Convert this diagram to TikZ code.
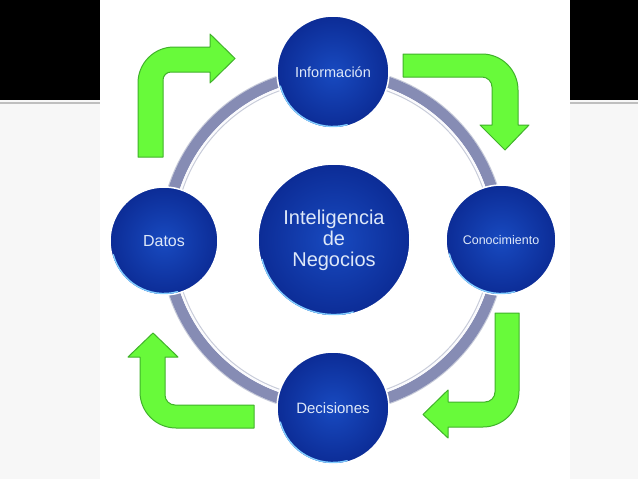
\documentclass[tikz,border=0pt]{standalone}
\usepackage{fontspec}
\setmainfont{Liberation Sans}
\definecolor{bgside}{RGB}{247,247,247}
\definecolor{sepline}{RGB}{190,190,190}
\definecolor{ringc}{RGB}{134,140,180}
\definecolor{ringhl}{RGB}{250,250,253}
\definecolor{ringedge}{RGB}{200,204,218}
\definecolor{gfill}{RGB}{104,250,58}
\definecolor{gline}{RGB}{64,178,42}
\definecolor{bin}{RGB}{24,74,192}
\definecolor{bout}{RGB}{12,44,150}
\definecolor{txtc}{RGB}{222,232,248}
\definecolor{rimc}{RGB}{130,205,255}
\newcommand{\myrim}[2]{%
  \begin{scope}[shift={(#1.center)},x=1pt,y=1pt]
    \draw[rimc,line width=1.4pt,line cap=round] (195:#2) arc[start angle=195,end angle=285,radius=#2];
  \end{scope}}
\begin{document}
\begin{tikzpicture}[x=1pt,y=-1pt,
  disc/.style={circle, inner sep=0pt, inner color=bin, outer color=bout, text=txtc, draw=white, line width=1.5pt},
  garrow/.style={fill=gfill, draw=gline, line width=1pt, line join=round}]
\useasboundingbox (0,0) rectangle (638,479);
% background
\fill[bgside] (0,0) rectangle (638,479);
\fill[white] (100,0) rectangle (570,479);
\fill[black] (0,0) rectangle (100,100);
\fill[black] (570,0) rectangle (638,100);
\draw[sepline, line width=1.5pt] (0,103) -- (100,103);
\draw[sepline, line width=1.5pt] (570,103) -- (638,103);
% ring
\coordinate (rc) at (333,240);
\draw[ringedge, line width=1pt] (rc) circle[radius=173];
\draw[ringc, line width=11pt] (rc) circle[radius=167];
\draw[ringhl, line width=1.5pt] (rc) circle[radius=160.5];
\draw[ringedge, line width=1pt] (rc) circle[radius=158.5];
% discs
\node[disc, minimum size=112pt, font=\fontsize{14.5}{16}\selectfont] (info) at (333,72) {Información};
\node[disc, minimum size=108pt, font=\fontsize{16}{18}\selectfont] (datos) at (164,241) {Datos};
\node[disc, minimum size=110pt, font=\fontsize{12.5}{14}\selectfont] (cono) at (501,240) {Conocimiento};
\node[disc, minimum size=112pt, font=\fontsize{15}{17}\selectfont] (deci) at (333,408) {Decisiones};
\node[disc, minimum size=152pt, align=center, font=\fontsize{20}{21}\selectfont] (bi) at (334,240) {Inteligencia\\de\\Negocios};
\myrim{info}{54.5}
\myrim{datos}{52.5}
\myrim{cono}{53.5}
\myrim{deci}{54.5}
\myrim{bi}{74.5}
% green arrows
\draw[garrow] (138,157) -- (138,83) .. controls (138,63.1) and (154.1,47) .. (174,47)
  -- (210,47) -- (210,34) -- (235,58.5) -- (210,83) -- (210,72) -- (171,72)
  .. controls (166.6,72) and (163,75.6) .. (163,80) -- (163,157) -- cycle;
\draw[garrow] (403,54) -- (482,54) .. controls (501.9,54) and (518,70.1) .. (518,90)
  -- (518,125) -- (529,125) -- (505,150) -- (480,125) -- (492,125) -- (492,87)
  .. controls (492,81.5) and (487.5,77) .. (482,77) -- (403,77) -- cycle;
\draw[garrow] (495,313) -- (519,313) -- (519,391) .. controls (519,410.9) and (502.9,427) .. (483,427)
  -- (448,427) -- (448,438) -- (423,414.5) -- (448,390) -- (448,402) -- (485,402)
  .. controls (490.5,402) and (495,397.5) .. (495,392) -- cycle;
\draw[garrow] (254,405) -- (254,428) -- (176,428) .. controls (156.1,428) and (140,411.9) .. (140,392)
  -- (140,357) -- (128,357) -- (153,333) -- (178,357) -- (165,357) -- (165,395)
  .. controls (165,400.5) and (169.5,405) .. (175,405) -- cycle;
\end{tikzpicture}
\end{document}
